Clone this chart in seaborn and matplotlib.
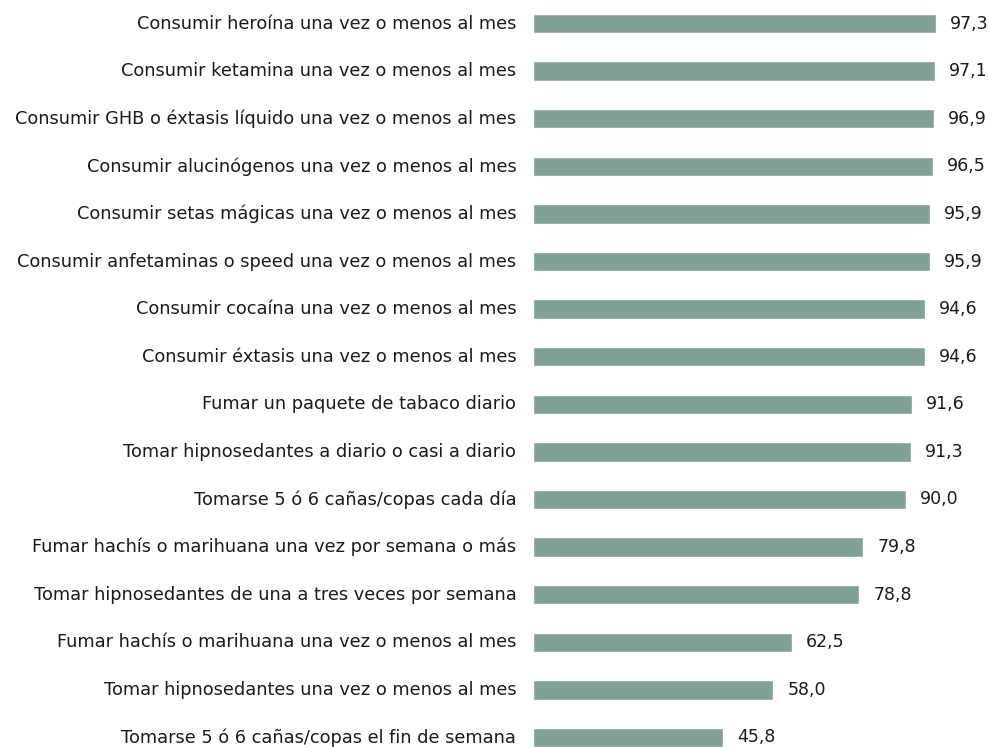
import matplotlib
matplotlib.use("Agg")
import matplotlib.pyplot as plt
import seaborn as sns
import pandas as pd

labels = [
    "Consumir heroína una vez o menos al mes",
    "Consumir ketamina una vez o menos al mes",
    "Consumir GHB o éxtasis líquido una vez o menos al mes",
    "Consumir alucinógenos una vez o menos al mes",
    "Consumir setas mágicas una vez o menos al mes",
    "Consumir anfetaminas o speed una vez o menos al mes",
    "Consumir cocaína una vez o menos al mes",
    "Consumir éxtasis una vez o menos al mes",
    "Fumar un paquete de tabaco diario",
    "Tomar hipnosedantes a diario o casi a diario",
    "Tomarse 5 ó 6 cañas/copas cada día",
    "Fumar hachís o marihuana una vez por semana o más",
    "Tomar hipnosedantes de una a tres veces por semana",
    "Fumar hachís o marihuana una vez o menos al mes",
    "Tomar hipnosedantes una vez o menos al mes",
    "Tomarse 5 ó 6 cañas/copas el fin de semana",
]
values = [97.3, 97.1, 96.9, 96.5, 95.9, 95.9, 94.6, 94.6, 91.6, 91.3, 90.0, 79.8, 78.8, 62.5, 58.0, 45.8]

df = pd.DataFrame({"label": labels, "value": values})

sns.set_style("white")
plt.rcParams["font.family"] = ["DejaVu Sans"]

fig = plt.figure(figsize=(9.89, 7.47), dpi=100)
ax = fig.add_axes([533 / 989, 0, 414 / 989, 1])

sns.barplot(data=df, y="label", x="value", orient="h", color="#7fa198",
            width=0.41, saturation=1, ax=ax)

ax.set_xlim(0, 100)
ax.set_ylim(15.2, -0.494)
ax.set_xlabel("")
ax.set_ylabel("")
ax.set_xticks([])
sns.despine(ax=ax, left=True, bottom=True)
ax.tick_params(axis="y", length=0, pad=12, labelsize=12.8, labelcolor="#1a1a1a")
for t in ax.get_yticklabels():
    t.set_va("center")

for i, v in enumerate(values):
    ax.text(v + 3.4, i, f"{v:.1f}".replace(".", ","), va="center", ha="left",
            fontsize=12.5, color="#1a1a1a")

fig.savefig("out.png", dpi=100)
